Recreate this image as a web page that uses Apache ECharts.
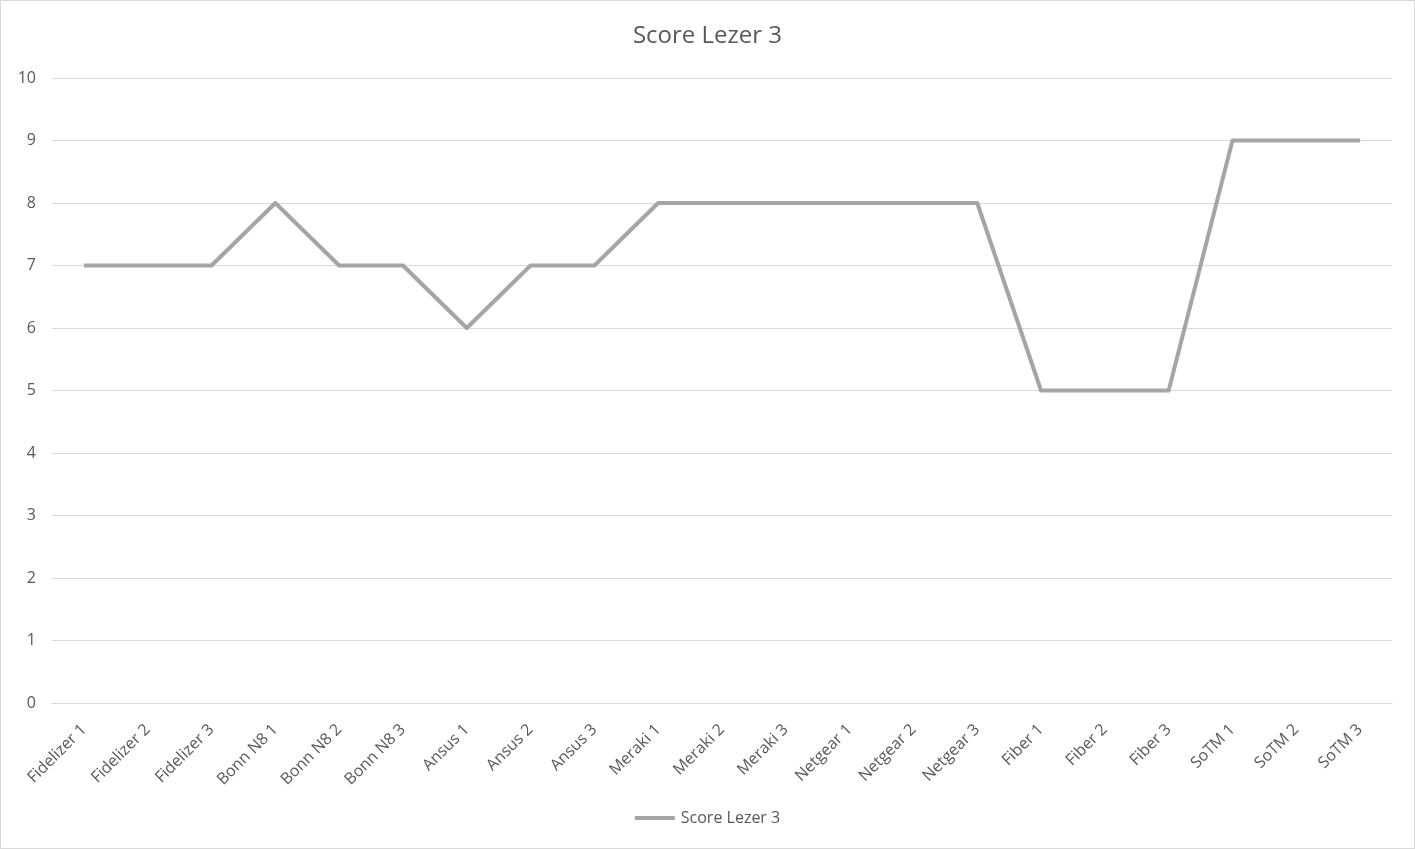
<!doctype html>
<html>
<head>
<meta charset="utf-8">
<title>Score Lezer 3</title>
<script src="https://cdn.jsdelivr.net/npm/echarts@6/dist/echarts.min.js"></script>
<style>
  html, body { margin: 0; padding: 0; width: 100%; height: 100%; background: #fff; overflow: hidden; }
  #container { position: absolute; left: 0; top: 0; width: 1413px; height: 847px; border: 1px solid #d9d9d9; }
</style>
</head>
<body>
<div id="container"></div>
<script type="text/javascript">
var categories = ['Fidelizer 1', 'Fidelizer 2', 'Fidelizer 3', 'Bonn N8 1', 'Bonn N8 2', 'Bonn N8 3',
  'Ansus 1', 'Ansus 2', 'Ansus 3', 'Meraki 1', 'Meraki 2', 'Meraki 3',
  'Netgear 1', 'Netgear 2', 'Netgear 3', 'Fiber 1', 'Fiber 2', 'Fiber 3',
  'SoTM 1', 'SoTM 2', 'SoTM 3'];
var scores = [7, 7, 7, 8, 7, 7, 6, 7, 7, 8, 8, 8, 8, 8, 8, 5, 5, 5, 9, 9, 9];
var seriesName = 'Score Lezer 3';

var chart = echarts.init(document.getElementById('container'));
var font = '"Open Sans", "Noto Sans", sans-serif';

var option = {
  animation: false,
  textStyle: { fontFamily: font },
  title: {
    text: seriesName,
    left: 'center',
    top: 18,
    textStyle: { color: '#595959', fontSize: 24, fontWeight: 'normal', fontFamily: font }
  },
  legend: {
    bottom: 17,
    left: 'center',
    icon: 'path://M0,0 H40 V4 H0 Z',
    itemWidth: 42,
    itemHeight: 4,
    itemGap: 6,
    textStyle: { color: '#595959', fontSize: 16, fontFamily: font },
    data: [seriesName]
  },
  grid: { left: 51, right: 22, top: 77, bottom: 145, containLabel: false },
  xAxis: {
    type: 'category',
    data: categories,
    boundaryGap: true,
    axisLine: { show: true, lineStyle: { color: '#d9d9d9', width: 1 } },
    axisTick: { show: false },
    axisLabel: { rotate: 45, color: '#595959', fontSize: 16, margin: 24, interval: 0 }
  },
  yAxis: {
    type: 'value',
    min: 0,
    max: 10,
    interval: 1,
    axisLine: { show: false },
    axisTick: { show: false },
    axisLabel: { color: '#595959', fontSize: 16, margin: 16 },
    splitLine: { lineStyle: { color: '#d9d9d9', width: 1 } }
  },
  series: [{
    name: seriesName,
    type: 'line',
    data: scores,
    symbol: 'none',
    lineStyle: { color: '#a5a5a5', width: 4, join: 'round' },
    itemStyle: { color: '#a5a5a5' }
  }]
};
chart.setOption(option);
</script>
</body>
</html>
